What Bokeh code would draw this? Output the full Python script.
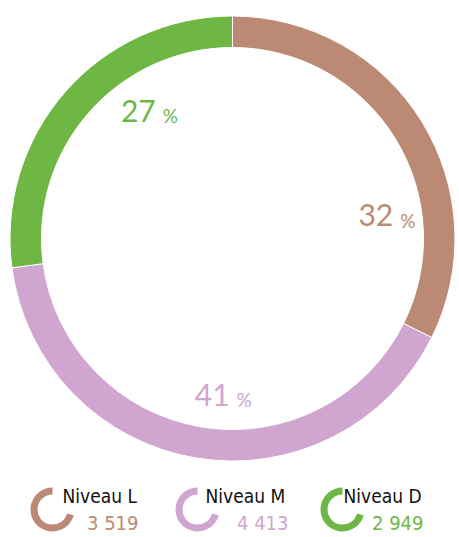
from math import pi, radians, sin, cos
from bokeh.plotting import figure
from bokeh.models import ColumnDataSource, Range1d
from bokeh.core.properties import value
from bokeh.embed import file_html
from bokeh.resources import INLINE

# ---- data ----
levels = ["Niveau L", "Niveau M", "Niveau D"]
counts = [3519, 4413, 2949]
colors = ["#BC8974", "#D0A5D0", "#6EB745"]

# ---- layout (screen-like pixel units, y measured from top) ----
W, H = 459, 537
def Y(s):  # screen y -> data y
    return H - s

BASE_FIX = 0.43  # baseline correction (fraction of font size) for svg text

cx, cy = 232, Y(238)
r_out, r_in = 222.5, 191
label_angle_deg = [86.4, 181.0, 326.2]   # clockwise from top
label_radius = [161, 169, 138]
num_size, pct_size = 30, 19

icon_cx = [52, 197, 342]
icon_cy = Y(509)
icon_r_out, icon_r_in = 22, 15
name_x = [62, 205, 343]
name_base = 504
val_right = [138, 288, 423]
val_base = 531
name_size, val_size = 19, 20
legend_font = "DejaVu Sans Condensed"

total = sum(counts)
fracs = [c / total for c in counts]
starts, ends = [], []
acc = 0.0
for f in fracs:
    starts.append(pi / 2 - acc * 2 * pi)
    acc += f
    ends.append(pi / 2 - acc * 2 * pi)

p = figure(width=W, height=H, x_range=Range1d(0, W), y_range=Range1d(0, H),
           output_backend="svg", toolbar_location=None, min_border=0,
           x_axis_location=None, y_axis_location=None)
p.grid.visible = False
p.outline_line_color = None
p.background_fill_color = "white"

src = ColumnDataSource(dict(x=[cx] * 3, y=[cy] * 3, s=starts, e=ends, c=colors))
p.annular_wedge(x="x", y="y", inner_radius=r_in, outer_radius=r_out,
                start_angle="s", end_angle="e", direction="clock",
                fill_color="c", line_color="white", line_width=1, source=src)

# percentage labels
pcts = [str(round(100 * f)) for f in fracs]
lx = [cx + r * sin(radians(a)) for r, a in zip(label_radius, label_angle_deg)]
ly = [cy + r * cos(radians(a)) for r, a in zip(label_radius, label_angle_deg)]
p.text(x=lx, y=[y + BASE_FIX * num_size for y in ly], text=pcts, text_color=colors,
       text_align="right", text_baseline="alphabetic", text_font=value("Lato"),
       text_font_size=f"{num_size}px")
p.text(x=[x + 7 for x in lx], y=[y + BASE_FIX * pct_size for y in ly], text=["%"] * 3,
       text_color=colors, text_align="left", text_baseline="alphabetic",
       text_font=value("Lato"), text_font_size=f"{pct_size}px")

# legend
p.annular_wedge(x=icon_cx, y=[icon_cy] * 3, inner_radius=icon_r_in, outer_radius=icon_r_out,
                start_angle=radians(90), end_angle=radians(-15), direction="anticlock",
                fill_color=colors, line_color=None)
p.text(x=name_x, y=[Y(name_base) + BASE_FIX * name_size] * 3, text=levels,
       text_color="#111111", text_align="left", text_baseline="alphabetic",
       text_font=value(legend_font), text_font_size=f"{name_size}px")
vals = [f"{c:,}".replace(",", " ") for c in counts]
p.text(x=val_right, y=[Y(val_base) + BASE_FIX * val_size] * 3, text=vals, text_color=colors,
       text_align="right", text_baseline="alphabetic", text_font=value(legend_font),
       text_font_size=f"{val_size}px")

open("out.html", "w").write(file_html(p, INLINE))
